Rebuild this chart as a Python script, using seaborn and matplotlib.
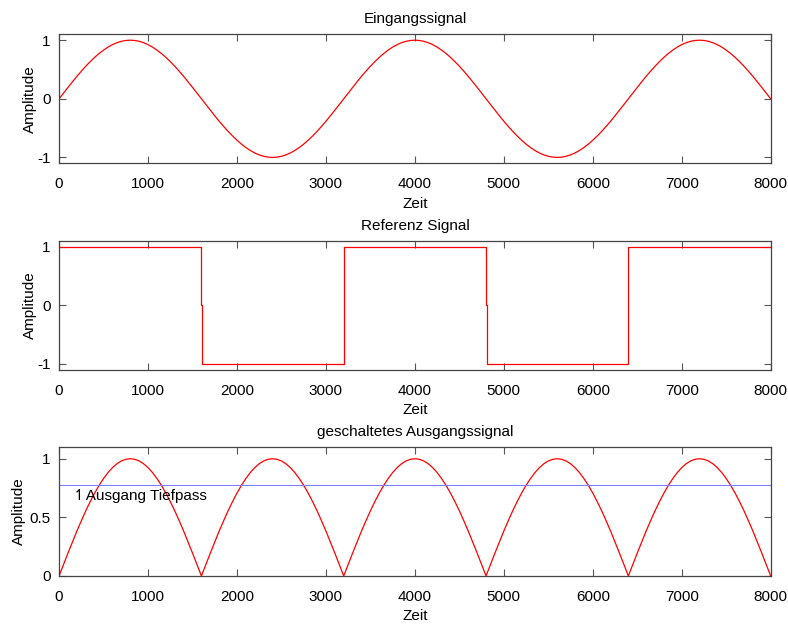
import numpy as np
import matplotlib
matplotlib.use("Agg")
import matplotlib.pyplot as plt
import seaborn as sns

# sampled input signal, every 50 time units
zeit = list(range(0, 8050, 50))
eingang = [
    0.0, 0.098, 0.195, 0.290, 0.383, 0.471, 0.556, 0.634, 0.707, 0.773, 0.831, 0.882, 0.924, 0.957, 0.981, 0.995,
    1.0, 0.995, 0.981, 0.957, 0.924, 0.882, 0.831, 0.773, 0.707, 0.634, 0.556, 0.471, 0.383, 0.290, 0.195, 0.098,
    0.0, -0.098, -0.195, -0.290, -0.383, -0.471, -0.556, -0.634, -0.707, -0.773, -0.831, -0.882, -0.924, -0.957, -0.981, -0.995,
    -1.0, -0.995, -0.981, -0.957, -0.924, -0.882, -0.831, -0.773, -0.707, -0.634, -0.556, -0.471, -0.383, -0.290, -0.195, -0.098,
    0.0, 0.098, 0.195, 0.290, 0.383, 0.471, 0.556, 0.634, 0.707, 0.773, 0.831, 0.882, 0.924, 0.957, 0.981, 0.995,
    1.0, 0.995, 0.981, 0.957, 0.924, 0.882, 0.831, 0.773, 0.707, 0.634, 0.556, 0.471, 0.383, 0.290, 0.195, 0.098,
    0.0, -0.098, -0.195, -0.290, -0.383, -0.471, -0.556, -0.634, -0.707, -0.773, -0.831, -0.882, -0.924, -0.957, -0.981, -0.995,
    -1.0, -0.995, -0.981, -0.957, -0.924, -0.882, -0.831, -0.773, -0.707, -0.634, -0.556, -0.471, -0.383, -0.290, -0.195, -0.098,
    0.0, 0.098, 0.195, 0.290, 0.383, 0.471, 0.556, 0.634, 0.707, 0.773, 0.831, 0.882, 0.924, 0.957, 0.981, 0.995,
    1.0, 0.995, 0.981, 0.957, 0.924, 0.882, 0.831, 0.773, 0.707, 0.634, 0.556, 0.471, 0.383, 0.290, 0.195, 0.098,
    0.0,
]

# reference square wave (switching points)
ref_zeit = [0, 1600, 1610, 3200, 4800, 4810, 6400, 8000]
ref_wert = [1, 0, -1, 1, 0, -1, 1, 1]

# switched output = rectified input
ausgang = np.abs(eingang)
tiefpass = 0.777

sns.set_style("ticks")
plt.rcParams["font.family"] = ["Liberation Sans", "DejaVu Sans"]
plt.rcParams["font.size"] = 11
plt.rcParams["axes.unicode_minus"] = False
plt.rcParams["text.color"] = "black"
plt.rcParams["axes.labelcolor"] = "black"

fig, axes = plt.subplots(3, 1, figsize=(7.88, 6.24), dpi=100)
fig.subplots_adjust(left=0.075, right=0.978, top=0.945, bottom=0.077, hspace=0.6)

sns.lineplot(x=zeit, y=eingang, ax=axes[0], color="red", linewidth=0.9, sort=False, estimator=None)
axes[0].set_title("Eingangssignal", fontsize=11, pad=8)
axes[0].set_ylim(-1.1, 1.1)
axes[0].set_yticks([-1, 0, 1])

sns.lineplot(x=ref_zeit, y=ref_wert, ax=axes[1], color="red", linewidth=0.9,
             drawstyle="steps-post", sort=False, estimator=None)
axes[1].set_title("Referenz Signal", fontsize=11, pad=8)
axes[1].set_ylim(-1.1, 1.1)
axes[1].set_yticks([-1, 0, 1])

sns.lineplot(x=zeit, y=ausgang, ax=axes[2], color="red", linewidth=0.9, sort=False, estimator=None)
axes[2].axhline(tiefpass, color="#8080ff", linewidth=0.8)
axes[2].text(160, 0.685, "\u21bfAusgang Tiefpass", fontsize=11, va="center", ha="left")
axes[2].set_title("geschaltetes Ausgangssignal", fontsize=11, pad=8)
axes[2].set_ylim(0, 1.1)
axes[2].set_yticks([0, 0.5, 1])
axes[2].set_yticklabels(["0", "0.5", "1"])

for i, ax in enumerate(axes):
    ax.set_xlim(0, 8000)
    ax.set_xticks(range(0, 8001, 1000))
    ax.set_xlabel("Zeit", fontsize=11)
    ax.set_ylabel("Amplitude", fontsize=11, labelpad=3 if i == 2 else 0)
    ax.tick_params(direction="in", top=True, right=True, length=5, width=0.8,
                   color="#555555", labelcolor="black", labelsize=11)
    ax.tick_params(axis="x", pad=10)
    ax.tick_params(axis="y", pad=6)
    for s in ax.spines.values():
        s.set_visible(True)
        s.set_color("#444444")
        s.set_linewidth(0.9)

fig.savefig("out.png", dpi=100)
